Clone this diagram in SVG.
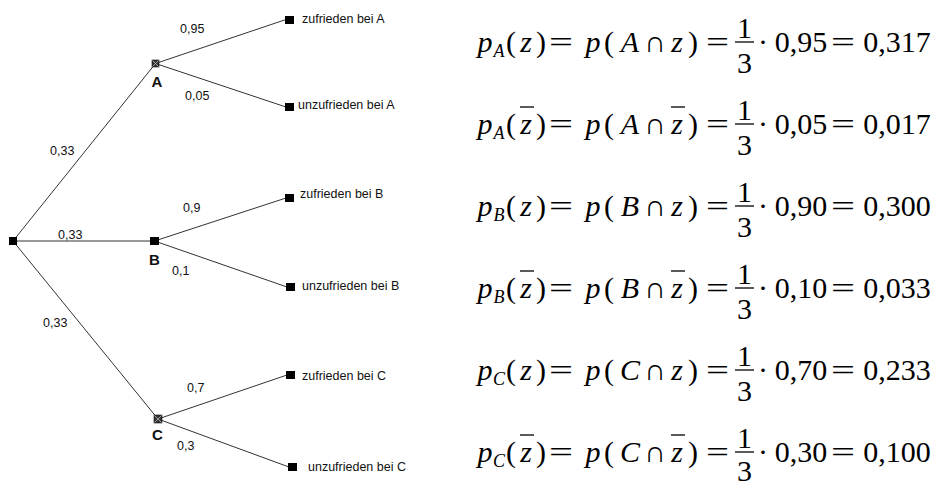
<svg xmlns="http://www.w3.org/2000/svg" width="936" height="487" viewBox="0 0 936 487">
<defs>
<style>
.edge{stroke:#333;stroke-width:1;fill:none}
.sq{fill:#000}
.hx{fill:#333;stroke:#111;stroke-width:0.6}
.hxl{stroke:#bbb;stroke-width:0.8}
.lbl{font-family:"Liberation Sans",Arial,sans-serif;font-size:12.5px;fill:#111}
.nl{font-family:"Liberation Sans",Arial,sans-serif;font-size:15px;font-weight:bold;fill:#111;text-anchor:middle}
.eq text{font-family:'Liberation Serif','Times New Roman','DejaVu Serif',serif;font-size:30px;fill:#000;text-anchor:middle}
.eq text.eqs{text-anchor:start}
.it{font-style:italic}
.sub{font-size:18px;font-style:italic}
.bar{stroke:#000;stroke-width:1.3}
</style>
</defs>
<rect width="936" height="487" fill="#fff"/>

<g id="connectors">
<path class="edge" d="M13 241 L155.5 63.5"/>
<path class="edge" d="M13 241 L154.5 241"/>
<path class="edge" d="M13 241 L158 419"/>
<path class="edge" d="M155.5 63.5 L286 19.5"/>
<path class="edge" d="M155.5 63.5 L286 107"/>
<path class="edge" d="M154.5 241 L286 198"/>
<path class="edge" d="M154.5 241 L287 287"/>
<path class="edge" d="M158 419 L287 375"/>
<path class="edge" d="M158 419 L289 467"/>
<g id="edge-labels">
<text class="lbl" x="180" y="33">0,95</text>
<text class="lbl" x="185" y="100">0,05</text>
<text class="lbl" x="50" y="155">0,33</text>
<text class="lbl" x="183" y="212">0,9</text>
<text class="lbl" x="58" y="239">0,33</text>
<text class="lbl" x="172" y="275">0,1</text>
<text class="lbl" x="43" y="327">0,33</text>
<text class="lbl" x="187" y="392">0,7</text>
<text class="lbl" x="177" y="450">0,3</text>
</g>
</g>

<g id="root"><rect class="sq" x="9" y="237" width="8" height="8"/></g>
<g id="nodeA">
<rect class="hx" x="152" y="60" width="7" height="7"/>
<path class="hxl" d="M152.5 60.5 L158.5 66.5 M158.5 60.5 L152.5 66.5"/>
<text class="nl" x="157" y="87">A</text>
</g>
<g id="nodeB">
<rect class="sq" x="150" y="237" width="9" height="8"/>
<text class="nl" x="154.5" y="265">B</text>
</g>
<g id="nodeC">
<rect class="hx" x="154" y="415" width="8" height="8"/>
<path class="hxl" d="M154.5 415.5 L161.5 422.5 M161.5 415.5 L154.5 422.5"/>
<text class="nl" x="157.5" y="440">C</text>
</g>

<g id="leafA1"><rect class="sq" x="285" y="16" width="9" height="8"/><text class="lbl" x="302" y="23">zufrieden bei A</text></g>
<g id="leafA2"><rect class="sq" x="285" y="103" width="9" height="8"/><text class="lbl" x="298" y="109">unzufrieden bei A</text></g>
<g id="leafB1"><rect class="sq" x="285" y="194" width="9" height="8"/><text class="lbl" x="300" y="198">zufrieden bei B</text></g>
<g id="leafB2"><rect class="sq" x="286" y="283" width="9" height="8"/><text class="lbl" x="302" y="290">unzufrieden bei B</text></g>
<g id="leafC1"><rect class="sq" x="286" y="371" width="9" height="8"/><text class="lbl" x="302" y="380">zufrieden bei C</text></g>
<g id="leafC2"><rect class="sq" x="288" y="463" width="9" height="8"/><text class="lbl" x="308" y="471">unzufrieden bei C</text></g>

<g id="eq1" class="eq">
<text y="52"><tspan class="it" x="485">p</tspan><tspan class="sub" x="499" y="57">A</tspan><tspan x="511" y="52">(</tspan><tspan class="it" x="526">z</tspan><tspan x="541">)</tspan><tspan class="it" x="593">p</tspan><tspan x="609">(</tspan><tspan class="it" x="630">A</tspan><tspan x="655">∩</tspan><tspan class="it" x="677">z</tspan><tspan x="693">)</tspan><tspan x="763">·</tspan><tspan x="801">0,95</tspan><tspan x="897">0,317</tspan></text>
<text class="eqs" x="549" y="52" textLength="24" lengthAdjust="spacingAndGlyphs">=</text>
<text class="eqs" x="706" y="52" textLength="23" lengthAdjust="spacingAndGlyphs">=</text>
<text class="eqs" x="831" y="52" textLength="24" lengthAdjust="spacingAndGlyphs">=</text>
<line class="bar" x1="735" y1="42" x2="754" y2="42"/>
<text x="744.5" y="38">1</text><text x="744.5" y="73">3</text>
</g>

<g id="eq2" class="eq">
<text y="134"><tspan class="it" x="485">p</tspan><tspan class="sub" x="499" y="139">A</tspan><tspan x="511" y="134">(</tspan><tspan class="it" x="526">z</tspan><tspan x="541">)</tspan><tspan class="it" x="593">p</tspan><tspan x="609">(</tspan><tspan class="it" x="630">A</tspan><tspan x="655">∩</tspan><tspan class="it" x="677">z</tspan><tspan x="693">)</tspan><tspan x="763">·</tspan><tspan x="801">0,05</tspan><tspan x="897">0,017</tspan></text>
<line class="bar" x1="520" y1="107" x2="534" y2="107"/>
<line class="bar" x1="671" y1="107" x2="685" y2="107"/>
<text class="eqs" x="549" y="134" textLength="24" lengthAdjust="spacingAndGlyphs">=</text>
<text class="eqs" x="706" y="134" textLength="23" lengthAdjust="spacingAndGlyphs">=</text>
<text class="eqs" x="831" y="134" textLength="24" lengthAdjust="spacingAndGlyphs">=</text>
<line class="bar" x1="735" y1="124" x2="754" y2="124"/>
<text x="744.5" y="120">1</text><text x="744.5" y="155">3</text>
</g>

<g id="eq3" class="eq">
<text y="216"><tspan class="it" x="485">p</tspan><tspan class="sub" x="499" y="221">B</tspan><tspan x="511" y="216">(</tspan><tspan class="it" x="526">z</tspan><tspan x="541">)</tspan><tspan class="it" x="593">p</tspan><tspan x="609">(</tspan><tspan class="it" x="630">B</tspan><tspan x="655">∩</tspan><tspan class="it" x="677">z</tspan><tspan x="693">)</tspan><tspan x="763">·</tspan><tspan x="801">0,90</tspan><tspan x="897">0,300</tspan></text>
<text class="eqs" x="549" y="216" textLength="24" lengthAdjust="spacingAndGlyphs">=</text>
<text class="eqs" x="706" y="216" textLength="23" lengthAdjust="spacingAndGlyphs">=</text>
<text class="eqs" x="831" y="216" textLength="24" lengthAdjust="spacingAndGlyphs">=</text>
<line class="bar" x1="735" y1="206" x2="754" y2="206"/>
<text x="744.5" y="202">1</text><text x="744.5" y="237">3</text>
</g>

<g id="eq4" class="eq">
<text y="298"><tspan class="it" x="485">p</tspan><tspan class="sub" x="499" y="303">B</tspan><tspan x="511" y="298">(</tspan><tspan class="it" x="526">z</tspan><tspan x="541">)</tspan><tspan class="it" x="593">p</tspan><tspan x="609">(</tspan><tspan class="it" x="630">B</tspan><tspan x="655">∩</tspan><tspan class="it" x="677">z</tspan><tspan x="693">)</tspan><tspan x="763">·</tspan><tspan x="801">0,10</tspan><tspan x="897">0,033</tspan></text>
<line class="bar" x1="520" y1="271" x2="534" y2="271"/>
<line class="bar" x1="671" y1="271" x2="685" y2="271"/>
<text class="eqs" x="549" y="298" textLength="24" lengthAdjust="spacingAndGlyphs">=</text>
<text class="eqs" x="706" y="298" textLength="23" lengthAdjust="spacingAndGlyphs">=</text>
<text class="eqs" x="831" y="298" textLength="24" lengthAdjust="spacingAndGlyphs">=</text>
<line class="bar" x1="735" y1="288" x2="754" y2="288"/>
<text x="744.5" y="284">1</text><text x="744.5" y="319">3</text>
</g>

<g id="eq5" class="eq">
<text y="380"><tspan class="it" x="485">p</tspan><tspan class="sub" x="499" y="385">C</tspan><tspan x="511" y="380">(</tspan><tspan class="it" x="526">z</tspan><tspan x="541">)</tspan><tspan class="it" x="593">p</tspan><tspan x="609">(</tspan><tspan class="it" x="630">C</tspan><tspan x="655">∩</tspan><tspan class="it" x="677">z</tspan><tspan x="693">)</tspan><tspan x="763">·</tspan><tspan x="801">0,70</tspan><tspan x="897">0,233</tspan></text>
<text class="eqs" x="549" y="380" textLength="24" lengthAdjust="spacingAndGlyphs">=</text>
<text class="eqs" x="706" y="380" textLength="23" lengthAdjust="spacingAndGlyphs">=</text>
<text class="eqs" x="831" y="380" textLength="24" lengthAdjust="spacingAndGlyphs">=</text>
<line class="bar" x1="735" y1="370" x2="754" y2="370"/>
<text x="744.5" y="366">1</text><text x="744.5" y="401">3</text>
</g>

<g id="eq6" class="eq">
<text y="462"><tspan class="it" x="485">p</tspan><tspan class="sub" x="499" y="467">C</tspan><tspan x="511" y="462">(</tspan><tspan class="it" x="526">z</tspan><tspan x="541">)</tspan><tspan class="it" x="593">p</tspan><tspan x="609">(</tspan><tspan class="it" x="630">C</tspan><tspan x="655">∩</tspan><tspan class="it" x="677">z</tspan><tspan x="693">)</tspan><tspan x="763">·</tspan><tspan x="801">0,30</tspan><tspan x="897">0,100</tspan></text>
<line class="bar" x1="520" y1="435" x2="534" y2="435"/>
<line class="bar" x1="671" y1="435" x2="685" y2="435"/>
<text class="eqs" x="549" y="462" textLength="24" lengthAdjust="spacingAndGlyphs">=</text>
<text class="eqs" x="706" y="462" textLength="23" lengthAdjust="spacingAndGlyphs">=</text>
<text class="eqs" x="831" y="462" textLength="24" lengthAdjust="spacingAndGlyphs">=</text>
<line class="bar" x1="735" y1="452" x2="754" y2="452"/>
<text x="744.5" y="448">1</text><text x="744.5" y="481">3</text>
</g>
</svg>
